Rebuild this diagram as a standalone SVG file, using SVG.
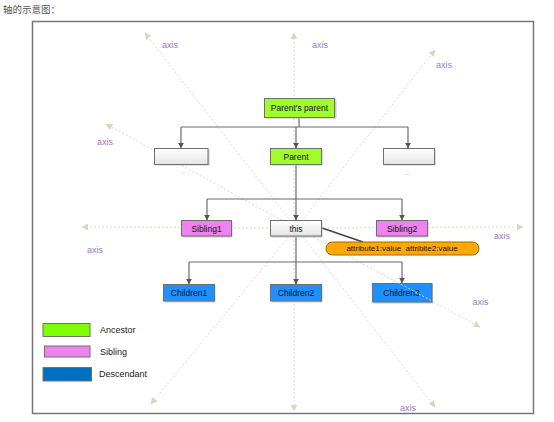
<svg xmlns="http://www.w3.org/2000/svg" width="554" height="422" viewBox="0 0 554 422">
<style>
text{font-family:"Liberation Sans",Arial,sans-serif;}
.lbl{font-size:8.5px;fill:#111;text-anchor:middle;dominant-baseline:central;}
.ax{font-size:9px;fill:#9a7cc4;text-anchor:middle;dominant-baseline:central;}
.leg{font-size:9px;fill:#222;dominant-baseline:central;}
.axl{stroke:#dcdcc6;stroke-width:1;stroke-dasharray:2,2;fill:none;}
.con{stroke:#6a6a6a;stroke-width:1.2;fill:none;}
.box{stroke:#707070;stroke-width:1;}
.sh{fill:#c8c8c8;}
</style>
<defs>
<marker id="axa" viewBox="0 0 10 10" refX="9" refY="5" markerWidth="7" markerHeight="7" markerUnits="userSpaceOnUse" orient="auto">
<path d="M0,0L10,5L0,10z" fill="#d8d8c2"/>
</marker>
<marker id="arr" viewBox="0 0 10 10" refX="9" refY="5" markerWidth="6" markerHeight="6" markerUnits="userSpaceOnUse" orient="auto">
<path d="M0,0L10,5L0,10z" fill="#555"/>
</marker>
<linearGradient id="wg" x1="0" y1="0" x2="0" y2="1">
<stop offset="0" stop-color="#ffffff"/>
<stop offset="1" stop-color="#e4e4e4"/>
</linearGradient>
</defs>
<rect width="554" height="422" fill="#ffffff"/>
<text x="3" y="9" style="font-family:'Liberation Sans','Noto Sans CJK SC',sans-serif;font-size:9.5px;fill:#555;dominant-baseline:central;">轴的示意图：</text>
<rect x="32.5" y="21.5" width="501" height="392" fill="#ffffff" stroke="#777" stroke-width="1.5"/>
<g id="axes">
<line class="axl" x1="296" y1="228" x2="145" y2="33" marker-end="url(#axa)"/>
<line class="axl" x1="294" y1="228" x2="294" y2="33" marker-end="url(#axa)"/>
<line class="axl" x1="296" y1="228" x2="435" y2="50" marker-end="url(#axa)"/>
<line class="axl" x1="296" y1="228" x2="106" y2="124" marker-end="url(#axa)"/>
<line class="axl" x1="296" y1="228" x2="82" y2="227" marker-end="url(#axa)"/>
<line class="axl" x1="296" y1="228" x2="523" y2="227" marker-end="url(#axa)"/>
<line class="axl" x1="296" y1="228" x2="480" y2="327" marker-end="url(#axa)"/>
<line class="axl" x1="296" y1="228" x2="435" y2="407" marker-end="url(#axa)"/>
<line class="axl" x1="294" y1="228" x2="294" y2="411" marker-end="url(#axa)"/>
<line class="axl" x1="296" y1="228" x2="151" y2="404" marker-end="url(#axa)"/>
<text class="ax" x="170" y="44.5">axis</text>
<text class="ax" x="320" y="44.5">axis</text>
<text class="ax" x="444" y="64.5">axis</text>
<text class="ax" x="105" y="142">axis</text>
<text class="ax" x="95" y="249.5">axis</text>
<text class="ax" x="502" y="236">axis</text>
<text class="ax" x="480.5" y="301.5">axis</text>
<text class="ax" x="408" y="407.5">axis</text>
</g>
<g id="connectors">
<path class="con" d="M299,117V127M181,127H408"/>
<path class="con" d="M181,127V148" marker-end="url(#arr)"/>
<path class="con" d="M296,127V148" marker-end="url(#arr)"/>
<path class="con" d="M408,127V148" marker-end="url(#arr)"/>
<path class="con" d="M296,164V220" marker-end="url(#arr)"/>
<path class="con" d="M207,199H402"/>
<path class="con" d="M207,199V220" marker-end="url(#arr)"/>
<path class="con" d="M402,199V220" marker-end="url(#arr)"/>
<path class="con" d="M296,236V284" marker-end="url(#arr)"/>
<path class="con" d="M189,262H402"/>
<path class="con" d="M189,262V284" marker-end="url(#arr)"/>
<path class="con" d="M402,262V283" marker-end="url(#arr)"/>
<path d="M322,228L363,242" stroke="#444" stroke-width="1.5" fill="none"/>
</g>
<g id="n-grandparent">
<rect class="sh" x="265.5" y="99.5" width="71" height="19"/>
<rect class="box" x="264.5" y="98.5" width="70" height="19" fill="#a0fc2a"/>
<text class="lbl" x="299.5" y="108">Parent's parent</text>
</g>
<g id="n-left">
<rect class="sh" x="155.5" y="149.5" width="54" height="16"/>
<rect class="box" x="154.5" y="148.5" width="53.5" height="16" fill="url(#wg)"/>
<text class="lbl" x="183" y="171" style="font-size:6px;fill:#888">...</text>
</g>
<g id="n-parent">
<rect class="sh" x="271.5" y="149.5" width="51" height="16"/>
<rect class="box" x="270.5" y="148.5" width="51" height="16" fill="#a0fc2a"/>
<text class="lbl" x="296" y="156.5">Parent</text>
</g>
<g id="n-right">
<rect class="sh" x="384.5" y="149.5" width="51" height="16"/>
<rect class="box" x="383.5" y="148.5" width="51" height="16" fill="url(#wg)"/>
<text class="lbl" x="407" y="172.5" style="font-size:6px;fill:#888">...</text>
</g>
<g id="n-sibling1">
<rect class="sh" x="182.5" y="221.5" width="50" height="16"/>
<rect class="box" x="181.5" y="220.5" width="50" height="15.5" fill="#ee82ee"/>
<text class="lbl" x="206.5" y="228.5">Sibling1</text>
</g>
<g id="n-this">
<rect class="sh" x="271.5" y="221.5" width="51" height="16"/>
<rect class="box" x="270.5" y="220.5" width="51" height="15.5" fill="url(#wg)"/>
<text class="lbl" x="296" y="228.5">this</text>
</g>
<g id="n-sibling2">
<rect class="sh" x="377.5" y="221.5" width="51" height="16"/>
<rect class="box" x="376.5" y="220.5" width="51" height="15.5" fill="#ee82ee"/>
<text class="lbl" x="402" y="228.5">Sibling2</text>
</g>
<g id="n-attr">
<rect x="326" y="242" width="153" height="13" rx="6.5" fill="#ffa800" stroke="#a06800" stroke-width="1"/>
<text class="lbl" x="402" y="248.8" style="font-size:8px">attribute1:value&#160;&#160;attribite2:value</text>
</g>
<g id="n-children1">
<rect class="sh" x="164.5" y="285.5" width="51" height="17"/>
<rect class="box" x="163.5" y="284.5" width="51" height="16.5" fill="#1e90ff"/>
<text class="lbl" x="189" y="292.8">Children1</text>
</g>
<g id="n-children2">
<rect class="sh" x="271.5" y="285.5" width="51" height="17"/>
<rect class="box" x="270.5" y="284.5" width="51" height="16.5" fill="#1e90ff"/>
<text class="lbl" x="296" y="292.8">Children2</text>
</g>
<g id="n-children3">
<rect class="sh" x="373.5" y="284.5" width="59.5" height="19"/>
<rect class="box" x="372.5" y="283.5" width="59.5" height="18.5" fill="#1e90ff"/>
<text class="lbl" x="401.5" y="292.8">Children3</text>
</g>
<line class="axl" x1="380" y1="273" x2="432" y2="301"/>
<g id="legend">
<rect class="box" x="43" y="323.5" width="47" height="13" fill="#80ff00"/>
<text class="leg" x="100" y="330">Ancestor</text>
<rect class="box" x="44.5" y="346" width="45.5" height="11" fill="#ee82ee"/>
<text class="leg" x="100" y="351.5">Sibling</text>
<rect class="box" x="43" y="367.5" width="48.5" height="13.5" fill="#0070c0"/>
<text class="leg" x="99" y="373.5">Descendant</text>
</g>
</svg>
